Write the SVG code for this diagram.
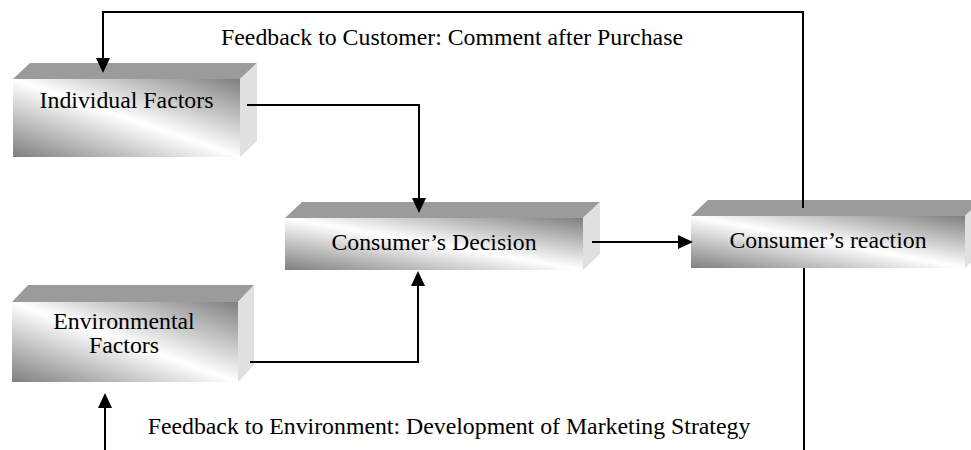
<svg xmlns="http://www.w3.org/2000/svg" width="971" height="450" viewBox="0 0 971 450">
<defs>
<linearGradient id="frontGrad" x1="0" y1="1" x2="1" y2="0">
<stop offset="0" stop-color="#7f7f7f"/>
<stop offset="0.5" stop-color="#ffffff"/>
<stop offset="1" stop-color="#7f7f7f"/>
</linearGradient>
<marker id="arrow" markerUnits="userSpaceOnUse" markerWidth="16" markerHeight="16" refX="0" refY="7" orient="auto" viewBox="0 0 16 14">
<path d="M0,0 L15,7 L0,14 Z" fill="#000"/>
</marker>
<style>
.front{fill:url(#frontGrad);}
.top{fill:#9b9b9b;}
.side{fill:#e0e0e0;}
.lbl{font-family:"Liberation Serif","Times New Roman",serif;font-size:23.8px;fill:#000;text-anchor:middle;}
.conn{fill:none;stroke:#000;stroke-width:2;}
</style>
</defs>
<rect width="971" height="450" fill="#fff"/>

<g id="individual-factors">
<polygon class="top" points="13,79 30,63 257,63 240,79"/>
<polygon class="side" points="240,79 257,63 257,141 240,157"/>
<rect class="front" x="13" y="79" width="227" height="78"/>
<text class="lbl" x="126.5" y="108">Individual Factors</text>
</g>

<g id="consumers-decision">
<polygon class="top" points="285,218 302,202 600,202 583,218"/>
<polygon class="side" points="583,218 600,202 600,254 583,270"/>
<rect class="front" x="285" y="218" width="298" height="52"/>
<text class="lbl" x="434" y="250">Consumer’s Decision</text>
</g>

<g id="consumers-reaction">
<polygon class="top" points="691,216 708,200 982,200 965,216"/>
<polygon class="side" points="965,216 982,200 982,252 965,268"/>
<rect class="front" x="691" y="216" width="274" height="52"/>
<text class="lbl" x="828" y="248">Consumer’s reaction</text>
</g>

<g id="environmental-factors">
<polygon class="top" points="12,302 28,285 254,285 238,302"/>
<polygon class="side" points="238,302 254,285 254,365 238,382"/>
<rect class="front" x="12" y="302" width="226" height="80"/>
<text class="lbl" x="124" y="329">Environmental</text>
<text class="lbl" x="124" y="353">Factors</text>
</g>

<g id="connectors">
<path class="conn" d="M803,208 L803,12 L103,12 L103,58" marker-end="url(#arrow)"/>
<path class="conn" d="M247,105 L419,105 L419,198" marker-end="url(#arrow)"/>
<path class="conn" d="M250,362 L418,362 L418,286" marker-end="url(#arrow)"/>
<path class="conn" d="M592,242 L678,242" marker-end="url(#arrow)"/>
<path class="conn" d="M804,268 L804,452"/>
<path class="conn" d="M105,452 L105,408" marker-end="url(#arrow)"/>
<text class="lbl" x="452" y="45">Feedback to Customer: Comment after Purchase</text>
<text class="lbl" x="449" y="434">Feedback to Environment: Development of Marketing Strategy</text>
</g>
</svg>
